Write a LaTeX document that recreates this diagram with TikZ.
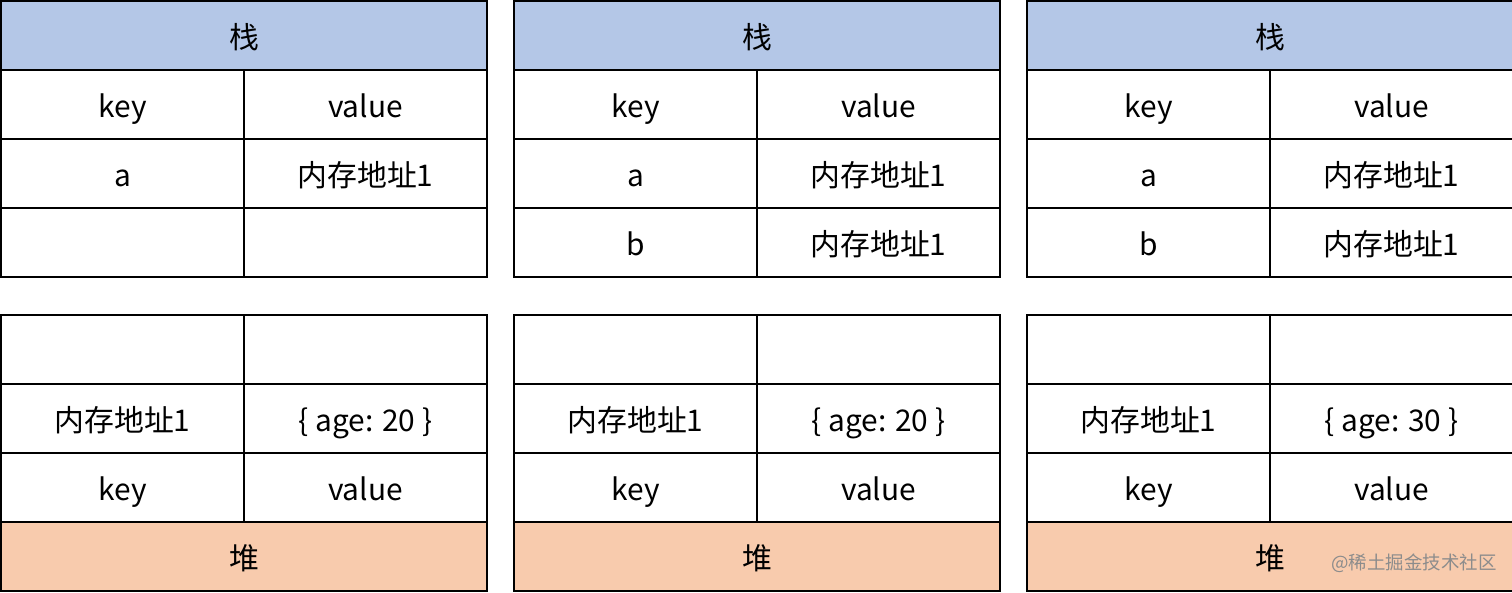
\documentclass[tikz,border=0pt]{standalone}
\usepackage{fontspec}
\setmainfont{Noto Sans CJK SC}
\definecolor{stackblue}{RGB}{180,199,231}
\definecolor{heaporange}{RGB}{248,203,173}
\begin{document}
\begin{tikzpicture}[x=0.02cm, y=-0.02cm,
    cell/.style={draw, line width=1pt, minimum width=4.86cm, minimum height=1.38cm,
      inner sep=0pt, text height=15pt, text depth=0pt, font=\fontsize{17}{20}\selectfont},
    wide/.style={cell, minimum width=9.72cm},
    stackhead/.style={wide, fill=stackblue},
    heapfoot/.style={wide, fill=heaporange}]
    \useasboundingbox (0,0) rectangle (1512,592);

    % Tabla 1:栈
    \node[stackhead] (s1h) at (244,35.5) {栈};
    \node[cell] (s1k) at (122.5,104.5) {key};
    \node[cell] (s1v) at (365.5,104.5) {value};
    \node[cell] (s1a) at (122.5,173.5) {a};
    \node[cell] (s1av) at (365.5,173.5) {内存地址1};
    \node[cell] (s1b) at (122.5,242.5) {};
    \node[cell] (s1bv) at (365.5,242.5) {};
    % Tabla 1: 堆
    \node[cell] (h1e) at (122.5,349.5) {};
    \node[cell] (h1ev) at (365.5,349.5) {};
    \node[cell] (h1m) at (122.5,418.5) {内存地址1};
    \node[cell] (h1mv) at (365.5,418.5) {\{ age: 20 \}};
    \node[cell] (h1k) at (122.5,487.5) {key};
    \node[cell] (h1v) at (365.5,487.5) {value};
    \node[heapfoot] (h1f) at (244,556.5) {堆};

    % Tabla 2: 栈
    \node[stackhead] (s2h) at (757,35.5) {栈};
    \node[cell] (s2k) at (635.5,104.5) {key};
    \node[cell] (s2v) at (878.5,104.5) {value};
    \node[cell] (s2a) at (635.5,173.5) {a};
    \node[cell] (s2av) at (878.5,173.5) {内存地址1};
    \node[cell] (s2b) at (635.5,242.5) {b};
    \node[cell] (s2bv) at (878.5,242.5) {内存地址1};
    % Tabla 2: 堆
    \node[cell] (h2e) at (635.5,349.5) {};
    \node[cell] (h2ev) at (878.5,349.5) {};
    \node[cell] (h2m) at (635.5,418.5) {内存地址1};
    \node[cell] (h2mv) at (878.5,418.5) {\{ age: 20 \}};
    \node[cell] (h2k) at (635.5,487.5) {key};
    \node[cell] (h2v) at (878.5,487.5) {value};
    \node[heapfoot] (h2f) at (757,556.5) {堆};

    % Tabla 3: 栈
    \node[stackhead] (s3h) at (1270,35.5) {栈};
    \node[cell] (s3k) at (1148.5,104.5) {key};
    \node[cell] (s3v) at (1391.5,104.5) {value};
    \node[cell] (s3a) at (1148.5,173.5) {a};
    \node[cell] (s3av) at (1391.5,173.5) {内存地址1};
    \node[cell] (s3b) at (1148.5,242.5) {b};
    \node[cell] (s3bv) at (1391.5,242.5) {内存地址1};
    % Tabla 3: 堆
    \node[cell] (h3e) at (1148.5,349.5) {};
    \node[cell] (h3ev) at (1391.5,349.5) {};
    \node[cell] (h3m) at (1148.5,418.5) {内存地址1};
    \node[cell] (h3mv) at (1391.5,418.5) {\{ age: 30 \}};
    \node[cell] (h3k) at (1148.5,487.5) {key};
    \node[cell] (h3v) at (1391.5,487.5) {value};
    \node[heapfoot] (h3f) at (1270,556.5) {堆};

    % Marca de agua
    \node[text=black!45, font=\fontsize{10.5}{12}\selectfont] (mark) at (1414,563) {@稀土掘金技术社区};
\end{tikzpicture}
\end{document}
